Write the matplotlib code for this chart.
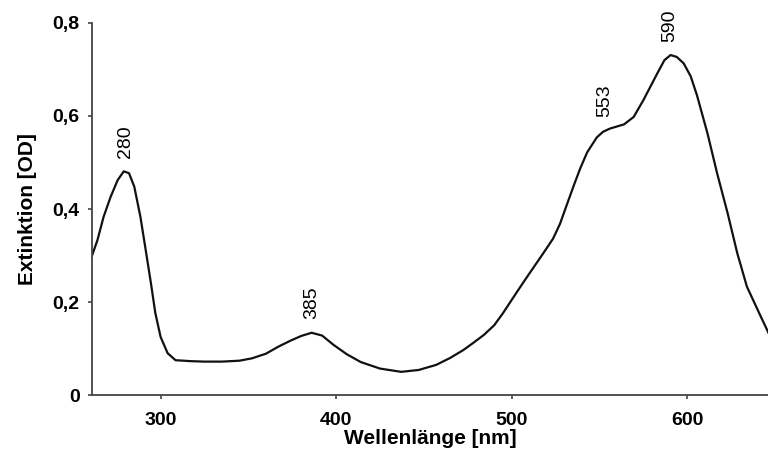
import numpy as np
import matplotlib
matplotlib.use('Agg')
import matplotlib.pyplot as plt

# Absorption spectrum
wavelength = [260, 264, 267.5, 271.5, 275.5, 279, 282, 285, 288.5, 291.5, 294.5,
              297, 300, 304, 308.5, 317, 325, 335, 345, 352, 360, 367, 374, 380,
              386, 392, 398.5, 406, 414, 425, 437, 447, 457, 465, 472.5, 478, 484,
              490, 495, 502.5, 508, 512, 518, 523.5, 527.5, 531, 535.5, 539, 543,
              548.5, 552, 556, 564, 569.5, 575, 583, 587, 590.5, 594, 598, 602,
              605.5, 611.5, 617, 623, 628.5, 634, 642, 646.5]
extinction = [0.29, 0.333, 0.383, 0.426, 0.462, 0.481, 0.477, 0.448, 0.383, 0.312,
              0.240, 0.176, 0.125, 0.090, 0.075, 0.073, 0.072, 0.072, 0.074, 0.079,
              0.089, 0.104, 0.117, 0.127, 0.134, 0.128, 0.108, 0.088, 0.071, 0.057,
              0.050, 0.054, 0.065, 0.080, 0.097, 0.112, 0.129, 0.150, 0.176, 0.219,
              0.250, 0.272, 0.305, 0.336, 0.368, 0.405, 0.452, 0.487, 0.522, 0.554,
              0.566, 0.573, 0.582, 0.598, 0.634, 0.692, 0.720, 0.731, 0.727, 0.713,
              0.685, 0.645, 0.563, 0.477, 0.391, 0.305, 0.233, 0.168, 0.132]

peak_labels = ['280', '385', '553', '590']
peak_nm = [280, 386, 553, 590]

plt.rcParams['font.family'] = ['Liberation Sans', 'DejaVu Sans']

fig = plt.figure(figsize=(7.68, 4.5), dpi=100)
ax = fig.add_axes([0.12, 0.122, 0.88, 0.827])

ax.plot(wavelength, extinction, color='#111111', linewidth=1.6,
        solid_joinstyle='round')

for lab, nm in zip(peak_labels, peak_nm):
    yv = np.interp(nm, wavelength, extinction)
    ax.annotate(lab, xy=(nm, yv), xytext=(0, 10), textcoords='offset points',
                rotation=90, ha='center', va='bottom', fontsize=14)

ax.set_xlim(261, 646)
ax.set_ylim(0, 0.8)
ax.set_xticks([300, 400, 500, 600])
ax.set_yticks([0, 0.2, 0.4, 0.6, 0.8])
ax.set_yticklabels(['0', '0,2', '0,4', '0,6', '0,8'])

for side in ['top', 'right']:
    ax.spines[side].set_visible(False)
for side in ['left', 'bottom']:
    ax.spines[side].set_color('#444444')
    ax.spines[side].set_linewidth(1.3)

ax.tick_params(direction='out', length=3, width=1.2, color='#444444',
               labelsize=14)
ax.tick_params(axis='x', pad=9)
ax.tick_params(axis='y', pad=6)
for t in ax.get_xticklabels() + ax.get_yticklabels():
    t.set_fontweight('bold')

ax.set_xlabel('Wellenlänge [nm]', fontsize=15, fontweight='bold', labelpad=0)
ax.set_ylabel('Extinktion [OD]', fontsize=15, fontweight='bold', labelpad=11)

fig.savefig('out.png', dpi=100)
